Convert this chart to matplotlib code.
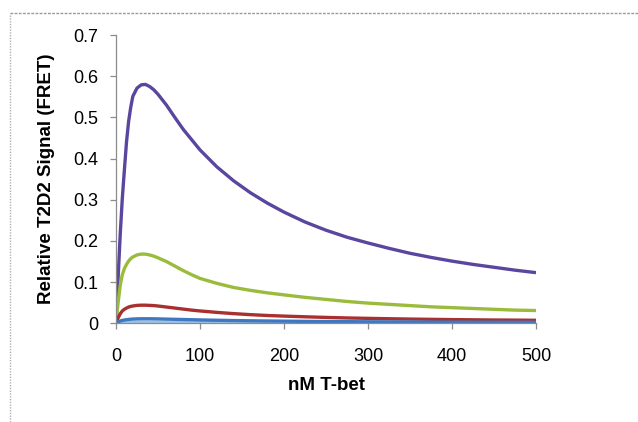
import matplotlib
matplotlib.use('Agg')
import matplotlib.pyplot as plt
from matplotlib.lines import Line2D

plt.rcParams['font.family'] = ['Liberation Sans', 'DejaVu Sans']

# nM T-bet
conc = [0, 2.5, 5, 7.5, 10, 12.5, 15, 17.5, 20, 25,
        30, 35, 40, 45, 50, 60, 70, 80, 90, 100,
        120, 140, 160, 180, 200, 225, 250, 275, 300, 325,
        350, 375, 400, 425, 450, 475, 500]

sig_purple = [0, 0.11, 0.215, 0.303, 0.373, 0.440, 0.490, 0.524, 0.551, 0.571,
              0.579, 0.580, 0.575, 0.567, 0.556, 0.530, 0.500, 0.471, 0.446, 0.421,
              0.380, 0.346, 0.317, 0.292, 0.270, 0.246, 0.226, 0.209, 0.195, 0.182,
              0.170, 0.160, 0.151, 0.143, 0.136, 0.129, 0.123]
sig_green = [0, 0.05, 0.092, 0.118, 0.133, 0.143, 0.151, 0.157, 0.161, 0.166,
             0.168, 0.168, 0.166, 0.163, 0.159, 0.150, 0.139, 0.128, 0.118, 0.109,
             0.097, 0.087, 0.080, 0.074, 0.069, 0.063, 0.058, 0.053, 0.049, 0.046,
             0.043, 0.040, 0.038, 0.036, 0.034, 0.032, 0.031]
sig_red = [0, 0.013, 0.023, 0.030, 0.034, 0.037, 0.0395, 0.041, 0.042, 0.0435,
           0.044, 0.044, 0.0435, 0.043, 0.042, 0.0395, 0.037, 0.0345, 0.032, 0.030,
           0.0265, 0.0235, 0.021, 0.019, 0.0175, 0.0158, 0.0143, 0.013, 0.012, 0.0111,
           0.0103, 0.0096, 0.009, 0.0085, 0.008, 0.0077, 0.0073]
sig_blue = [0, 0.003, 0.0055, 0.007, 0.008, 0.0088, 0.0094, 0.0099, 0.0103, 0.0108,
            0.011, 0.011, 0.011, 0.0109, 0.0107, 0.0102, 0.0097, 0.0092, 0.0087, 0.0082,
            0.0074, 0.0067, 0.0061, 0.0056, 0.0052, 0.0047, 0.0043, 0.004, 0.0037, 0.0035,
            0.0033, 0.0031, 0.0029, 0.0028, 0.0027, 0.0026, 0.0025]
sig_lightblue = [0, 0.0009, 0.0015, 0.0019, 0.0022, 0.0024, 0.0026, 0.0027, 0.0028, 0.0029,
                 0.003, 0.003, 0.003, 0.003, 0.0029, 0.0028, 0.0027, 0.0025, 0.0024, 0.0023,
                 0.0021, 0.0019, 0.0017, 0.0016, 0.0015, 0.0013, 0.0012, 0.0011, 0.0011, 0.001,
                 0.0009, 0.0009, 0.0008, 0.0008, 0.0007, 0.0007, 0.0007]

series = [(sig_purple, '#5a469e'), (sig_green, '#9bbb3c'),
          (sig_red, '#a8302e'), (sig_lightblue, '#9cc3e6'),
          (sig_blue, '#3f78c0')]

fig = plt.figure(figsize=(6.38, 4.22), dpi=100)
ax = fig.add_axes([116/638, 1 - 323.3/422, 420/638, (323.3 - 35)/422])

for ys, col in series:
    ax.plot(conc, ys, color=col, linewidth=2.4, solid_capstyle='butt')

ax.set_xlim(0, 500)
ax.set_ylim(0, 0.7)
ax.set_xticks([0, 100, 200, 300, 400, 500])
ax.set_yticks([0, 0.1, 0.2, 0.3, 0.4, 0.5, 0.6, 0.7])
ax.set_yticklabels(['0', '0.1', '0.2', '0.3', '0.4', '0.5', '0.6', '0.7'])

for s in ['top', 'right']:
    ax.spines[s].set_visible(False)
for s in ['left', 'bottom']:
    ax.spines[s].set_color('#8c8c8c')
    ax.spines[s].set_linewidth(0.9)
ax.tick_params(axis='both', direction='out', length=4, width=0.9,
               color='#8c8c8c', labelsize=13)
ax.tick_params(axis='y', pad=9)
ax.tick_params(axis='x', pad=14)

ax.set_ylabel('Relative T2D2 Signal (FRET)', fontsize=13.5, fontweight='bold')
ax.yaxis.set_label_coords(-(116 - 55) / 420, 0.5)
ax.set_xlabel('nM T-bet', fontsize=13.5, fontweight='bold')
ax.xaxis.set_label_coords(0.5, -(377 - 323.3) / (323.3 - 35))

# dashed frame of the original screenshot (top and left edges)
fig.add_artist(Line2D([10/638, 1], [1 - 13/422, 1 - 13/422],
                      transform=fig.transFigure, color='#9a9a9a',
                      linestyle=(0, (2, 1)), linewidth=1))
fig.add_artist(Line2D([10/638, 10/638], [0, 1 - 13/422],
                      transform=fig.transFigure, color='#b0b0b0',
                      linestyle=(0, (1, 1)), linewidth=1))

fig.savefig('out.png', dpi=100)
